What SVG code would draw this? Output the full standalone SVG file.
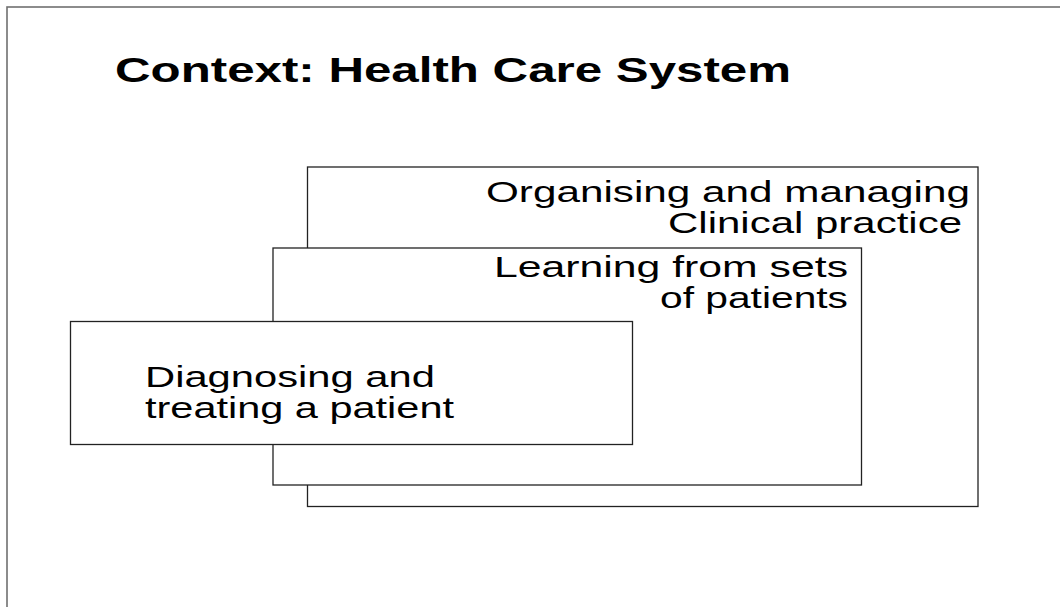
<svg xmlns="http://www.w3.org/2000/svg" width="1060" height="607" viewBox="0 0 1060 607">
<style>
.box{fill:#fff;stroke:#222;stroke-width:1.3}
.t{font-family:"Liberation Sans",Arial,sans-serif;font-size:29px;fill:#000}
.title{font-family:"Liberation Sans",Arial,sans-serif;font-size:35px;font-weight:bold;fill:#000}
</style>
<rect x="0" y="0" width="1060" height="607" fill="#fff"/>
<rect x="7" y="7" width="1100" height="650" fill="none" stroke="#707070" stroke-width="1.6"/>
<text class="title" x="115" y="82" textLength="676" lengthAdjust="spacingAndGlyphs">Context: Health Care System</text>
<g id="organising">
<rect class="box" x="307.5" y="167" width="670.5" height="339.5"/>
<text class="t" x="486" y="202" textLength="484" lengthAdjust="spacingAndGlyphs">Organising and managing</text>
<text class="t" x="668" y="233" textLength="294" lengthAdjust="spacingAndGlyphs">Clinical practice</text>
</g>
<g id="learning">
<rect class="box" x="273" y="248" width="588.5" height="237"/>
<text class="t" x="494" y="277" textLength="354" lengthAdjust="spacingAndGlyphs">Learning from sets</text>
<text class="t" x="660" y="308" textLength="188" lengthAdjust="spacingAndGlyphs">of patients</text>
</g>
<g id="diagnosing">
<rect class="box" x="70.5" y="321.5" width="562" height="123"/>
<text class="t" x="145" y="387" textLength="290" lengthAdjust="spacingAndGlyphs">Diagnosing and</text>
<text class="t" x="145" y="418" textLength="309" lengthAdjust="spacingAndGlyphs">treating a patient</text>
</g>
<g id="connectors"></g>
</svg>
